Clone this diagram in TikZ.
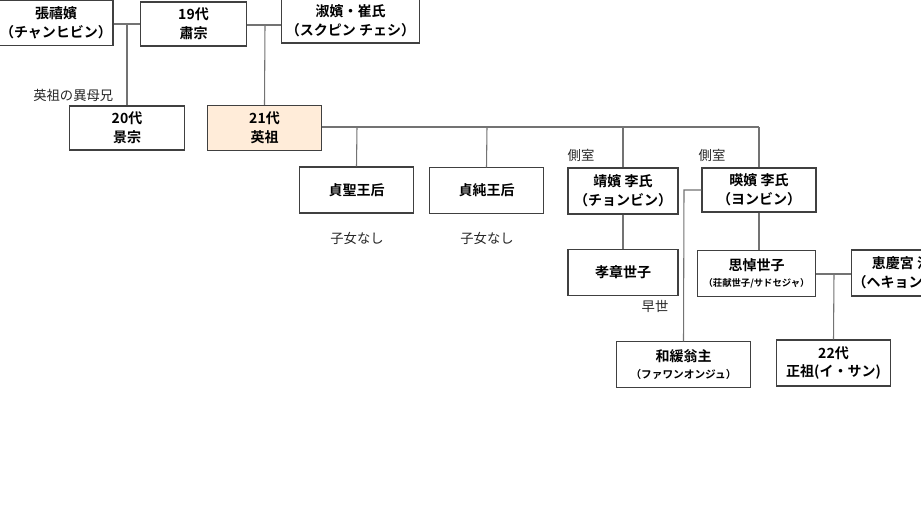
\documentclass[tikz,border=0pt]{standalone}
\usepackage{fontspec}
\setmainfont{Noto Sans CJK JP}[BoldFont={Noto Sans CJK JP Bold}]
\usepackage{tikz}

\begin{document}
\begin{tikzpicture}[x=0.75pt,y=-0.75pt,
  person/.style={draw=black!75,line width=0.8pt,fill=white,align=center,inner sep=0pt,
    font=\fontsize{10.5}{14}\selectfont\bfseries,minimum width=86pt,minimum height=34pt},
  king/.style={person,fill=orange!15},
  note/.style={font=\fontsize{10}{12}\selectfont,text=black!85},
  link/.style={draw=black!55,line width=0.8pt},
  tiny/.style={font=\fontsize{7}{9}\selectfont}]

\useasboundingbox (0,0) rectangle (921,518);
\clip (0,0) rectangle (921,518);
\fill[white] (0,0) rectangle (921,518);

\node[person,minimum width=85.5pt] (zhang) at (56,23) {張禧嬪\\（チャンヒビン）};
\node[person,minimum width=80pt,minimum height=33pt] (sukjong) at (193.5,24) {19代\\肅宗};
\node[person,minimum width=103pt,minimum height=33pt] (sukbin) at (350.5,21) {淑嬪・崔氏\\（スクピン チェシ）};

\node[person,minimum height=33pt] (gyeongjong) at (127,128) {20代\\景宗};
\node[king] (yeongjo) at (264.5,128) {21代\\英祖};
\node[note,anchor=east] (half) at (118,95) {英祖の異母兄};

\node[person,minimum height=34.5pt] (jeongseong) at (356.5,190) {貞聖王后};
\node[person,minimum height=34pt] (jeongsun) at (486.5,190.5) {貞純王后};
\node[note] (nochild1) at (357,238) {子女なし};
\node[note] (nochild2) at (487,238) {子女なし};

\node[person,minimum width=82.5pt,minimum height=34.5pt] (jeongbin) at (623,191) {靖嬪 李氏\\（チョンビン）};
\node[person,minimum width=85.5pt,minimum height=33pt] (yeongbin) at (759,190) {暎嬪 李氏\\（ヨンビン）};
\node[note] (side1) at (581,155) {側室};
\node[note] (side2) at (712,155) {側室};

\node[person,minimum width=82.5pt,minimum height=34pt] (hyojang) at (623,272.5) {孝章世子};
\node[note] (early) at (655,306) {早世};
\node[person,minimum width=89pt,minimum height=35pt] (sado) at (756.5,273.5) {思悼世子\\[-2pt]{\tiny\fontsize{7}{9}\selectfont （荘献世子/サドセジャ）}};
\node[person,minimum height=34.5pt] (hyegyeong) at (908.5,273) {恵慶宮 洪氏\\（ヘキョングン）};

\node[person,minimum width=100pt,minimum height=34pt] (hwawan) at (683.5,364.5) {和緩翁主\\[-1pt]{\fontsize{8}{10}\selectfont （ファワンオンジュ）}};
\node[person,minimum height=34.5pt] (jeongjo) at (833.5,363) {22代\\正祖(イ・サン)};

\draw[link] (zhang.east |- 0,24) -- (sukjong.west |- 0,24);
\draw[link] (127,24) -- (gyeongjong.north);
\draw[link] (sukjong.east |- 0,25) -- (sukbin.west |- 0,25);
\draw[link] (265,25) -- (yeongjo.north);

\draw[link] (yeongjo.east |- 0,127) -- (759,127);
\draw[link] (357,127) -- (jeongseong.north);
\draw[link] (487,127) -- (jeongsun.north);
\draw[link] (623,127) -- (jeongbin.north);
\draw[link] (759,127) -- (yeongbin.north);

\draw[link] (jeongbin.south) -- (hyojang.north);
\draw[link] (yeongbin.south) -- (yeongbin.south |- sado.north);
\draw[link] (yeongbin.west |- 0,190) -- (684,190) -- (hwawan.north);
\draw[link] (sado.east |- 0,274) -- (hyegyeong.west |- 0,274);
\draw[link] (834,274) -- (jeongjo.north);

\end{tikzpicture}
\end{document}
